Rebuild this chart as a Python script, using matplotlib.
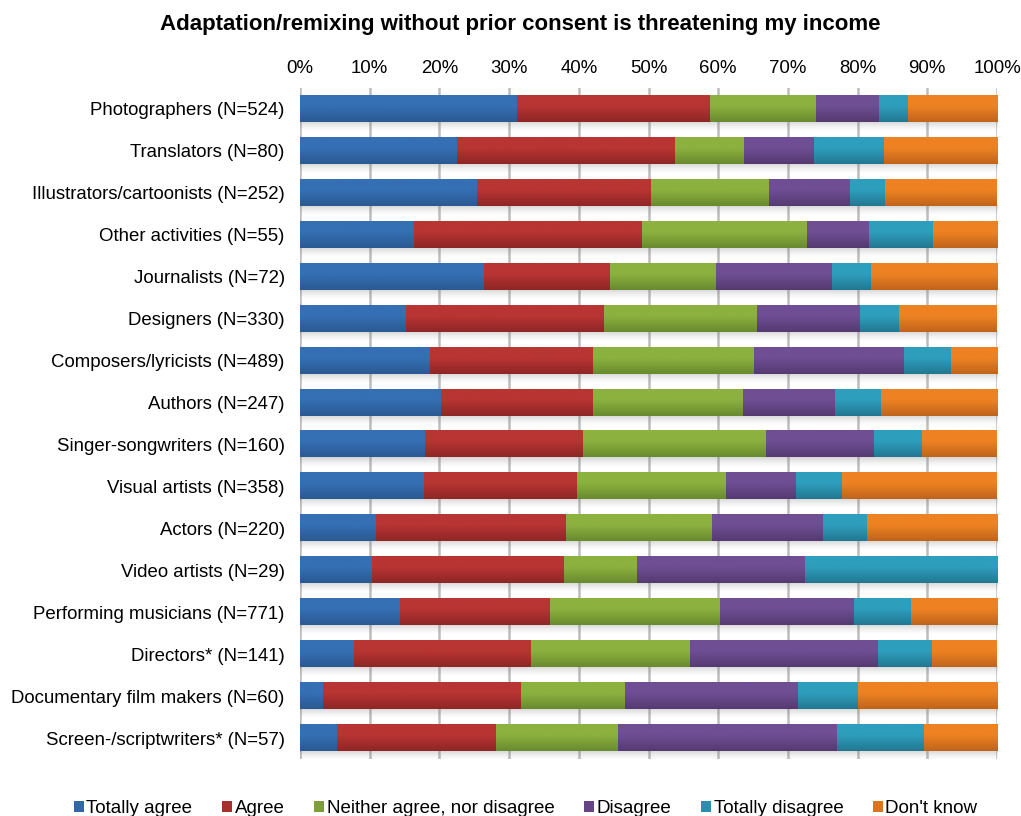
import numpy as np
import matplotlib.pyplot as plt
from matplotlib.colors import LinearSegmentedColormap

plt.rcParams['font.family'] = ['Liberation Sans', 'DejaVu Sans']

categories = [
    'Photographers (N=524)', 'Translators (N=80)', 'Illustrators/cartoonists (N=252)',
    'Other activities (N=55)', 'Journalists (N=72)', 'Designers (N=330)',
    'Composers/lyricists (N=489)', 'Authors (N=247)', 'Singer-songwriters (N=160)',
    'Visual artists (N=358)', 'Actors (N=220)', 'Video artists (N=29)',
    'Performing musicians (N=771)', 'Directors* (N=141)',
    'Documentary film makers (N=60)', 'Screen-/scriptwriters* (N=57)',
]
series = ['Totally agree', 'Agree', 'Neither agree, nor disagree', 'Disagree',
          'Totally disagree', "Don't know"]

totally_agree = [31.1, 22.5, 25.4, 16.4, 26.4, 15.2, 18.6, 20.2, 18.0, 17.8, 10.9, 10.3, 14.4, 7.8, 3.3, 5.3]
agree = [27.7, 31.25, 24.9, 32.7, 18.1, 28.4, 23.5, 21.9, 22.6, 22.0, 27.2, 27.6, 21.5, 25.4, 28.4, 22.8]
neither = [15.3, 10.0, 17.0, 23.6, 15.2, 22.0, 23.1, 21.4, 26.2, 21.3, 21.0, 10.4, 24.3, 22.8, 14.9, 17.5]
disagree = [9.0, 10.0, 11.6, 9.0, 16.6, 14.7, 21.4, 13.3, 15.6, 10.0, 15.9, 24.1, 19.3, 26.9, 24.9, 31.5]
totally_disagree = [4.1, 10.0, 5.1, 9.1, 5.6, 5.7, 6.8, 6.5, 6.9, 6.7, 6.3, 27.6, 8.1, 7.8, 8.5, 12.4]
dont_know = [12.8, 16.25, 16.0, 9.2, 18.1, 14.0, 6.6, 16.7, 10.7, 22.2, 18.7, 0.0, 12.4, 9.3, 20.0, 10.5]

# top / bottom shades of each bar's gradient
top_colors = ['#356FB4', '#B83533', '#8CB13F', '#6F4E94', '#2E9EBD', '#EE8222']
bottom_colors = ['#2A5A92', '#8E2626', '#6A8A2E', '#543A70', '#227891', '#C0641C']
legend_colors = ['#3068AA', '#A6302E', '#7E9F38', '#654583', '#2A8EAD', '#DB741E']

values = [totally_agree, agree, neither, disagree, totally_disagree, dont_know]

fig = plt.figure(figsize=(10.21, 8.16), dpi=100)
ax = fig.add_axes([300 / 1021, 1 - 759 / 816, 697 / 1021, 671 / 816])

bar_h = 0.62
t = np.linspace(0, 1, 64)
grad = np.clip((t - 0.4) / 0.6, 0, 1).reshape(-1, 1)

# soft shadow under each bar row
shadow = np.zeros((32, 1, 4))
shadow[..., :3] = 0.45
shadow[:, 0, 3] = np.linspace(0.45, 0.0, 32) ** 1.5

y = np.arange(len(categories))
left = np.zeros(len(categories))
for name, vals, c0, c1, lc in zip(series, values, top_colors, bottom_colors, legend_colors):
    vals = np.array(vals)
    bars = ax.barh(y, vals, left=left, height=bar_h, color=lc, label=name, zorder=3)
    cmap = LinearSegmentedColormap.from_list(name, [c0, c1])
    for b in bars:
        x0, y0 = b.get_x(), b.get_y()
        w, h = b.get_width(), b.get_height()
        if w <= 0:
            continue
        ax.imshow(grad, cmap=cmap, vmin=0, vmax=1, aspect='auto', zorder=4,
                  extent=[x0, x0 + w, y0 + h, y0], interpolation='bilinear')
    left += vals

for yi in y:
    ax.imshow(shadow, aspect='auto', zorder=2, interpolation='bilinear',
              extent=[0, 100.4, yi + bar_h / 2 + 0.24, yi + bar_h / 2 - 0.02])

ax.set_xlim(0, 100)
ax.set_ylim(len(categories) - 0.5, -0.5)
ax.set_yticks(y)
ax.set_yticklabels(categories, fontsize=13.4)
ax.set_xticks(np.arange(0, 101, 10))
ax.set_xticklabels([f'{v}%' for v in range(0, 101, 10)], fontsize=13.4)
ax.xaxis.tick_top()
ax.tick_params(axis='both', length=0)
ax.tick_params(axis='y', pad=11)
ax.tick_params(axis='x', pad=8)
ax.grid(axis='x', color='#BDBDBD', linewidth=1.8, zorder=0)
for s in ax.spines.values():
    s.set_visible(False)

fig.suptitle('Adaptation/remixing without prior consent is threatening my income',
             fontsize=16, fontweight='bold', x=0.51, y=0.983)

fig.legend(loc='lower center', bbox_to_anchor=(0.515, -0.022), ncol=6, fontsize=13.5,
           frameon=False, handlelength=0.5, handleheight=0.5, handletextpad=0.15,
           columnspacing=1.6)

fig.savefig('out.png', dpi=100)
